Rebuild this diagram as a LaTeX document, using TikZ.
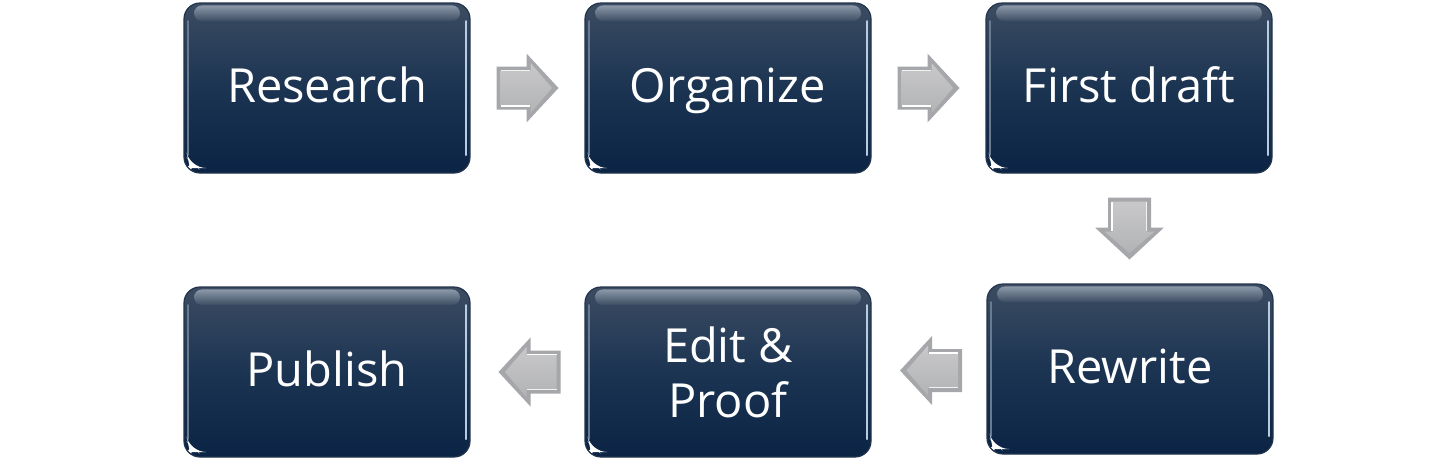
\documentclass[tikz,border=0pt]{standalone}
\usepackage{fontspec}
\setmainfont{Open Sans}
\usetikzlibrary{calc}
\definecolor{boxtop}{HTML}{3C4C62}
\definecolor{boxmid}{HTML}{1B3452}
\definecolor{boxbot}{HTML}{0B2445}
\definecolor{boxedge}{HTML}{22344C}
\definecolor{gloss}{HTML}{8C99AA}
\definecolor{edgehl}{HTML}{B8CCE0}
\definecolor{arrout}{HTML}{A6A7AA}
\definecolor{arrtop}{HTML}{C8C8CA}
\definecolor{arrbot}{HTML}{B2B3B5}
\tikzset{
  stepbox/.style={rounded corners=8pt, minimum width=143pt, minimum height=85pt,
    inner sep=0pt, text=white, font=\fontsize{23.5}{27.5}\selectfont, align=center,
    top color=boxtop, bottom color=boxbot, middle color=boxmid,
    draw=boxedge, line width=0.6pt,
    path picture={
      \coordinate (nw) at (path picture bounding box.north west);
      \coordinate (se) at (path picture bounding box.south east);
      \shade[top color=gloss, bottom color=boxtop, rounded corners=4pt]
        ($(nw)+(5pt,-1.2pt)$) rectangle ($(se|-nw)+(-5pt,-9pt)$);
      \draw[edgehl, line width=1pt, line cap=round]
        ($(se|-nw)+(-2.2pt,-9pt)$) -- ($(se)+(-2.2pt,9pt)$);
      \draw[gloss!70!boxmid, line width=0.8pt, line cap=round]
        ($(nw)+(2pt,-9pt)$) -- ($(nw|-se)+(2pt,9pt)$);
      \fill[white] ($(nw|-se)+(2pt,7pt)$) -- ++(5pt,-4.5pt) -- ++(-4pt,0pt) -- cycle;
    }},
  oneline/.style={text height=17pt, text depth=3pt},
  blockarr/.pic={
    \fill[arrout] (-15.5pt,-10.75pt) -- (-0.5pt,-10.75pt) -- (-0.5pt,-17.25pt)
      -- (15.5pt,0pt) -- (-0.5pt,17.25pt) -- (-0.5pt,10.75pt) -- (-15.5pt,10.75pt) -- cycle;
    \shade[top color=arrtop, bottom color=arrbot]
      (-13.5pt,-8.5pt) -- (1.5pt,-8.5pt) -- (1.5pt,-12.5pt)
      -- (12.3pt,0pt) -- (1.5pt,12.5pt) -- (1.5pt,8.5pt) -- (-13.5pt,8.5pt) -- cycle;
    \draw[white, line width=0.9pt] (-13.5pt,-8.8pt) -- (1.2pt,-8.8pt);
    \draw[white!85!arrout, line width=0.6pt] (-13.5pt,8.6pt) -- (1.2pt,8.6pt);
  }
}
\begin{document}
\begin{tikzpicture}[x=0.5pt,y=-0.5pt]
\useasboundingbox (0,0) rectangle (1456,462);
\node[stepbox,oneline] (research) at (327,88) {Research};
\node[stepbox,oneline] (organize) at (728,88) {Organize};
\node[stepbox,oneline] (draft) at (1129,88) {First draft};
\node[stepbox,oneline] (rewrite) at (1130,369) {Rewrite};
\node[stepbox] (edit) at (728,372) {Edit \&\\Proof};
\node[stepbox,oneline] (publish) at (327,372) {Publish};
\pic at ($(research.east)!0.5!(organize.west)$) {blockarr};
\pic at ($(organize.east)!0.5!(draft.west)$) {blockarr};
\pic[rotate=-90] at ($(draft.south)!0.5!(rewrite.north)$) {blockarr};
\pic[rotate=180] at ($(rewrite.west)!0.5!(edit.east)+(2,0)$) {blockarr};
\pic[rotate=180] at ($(edit.west)!0.5!(publish.east)+(2,0)$) {blockarr};
\end{tikzpicture}
\end{document}
